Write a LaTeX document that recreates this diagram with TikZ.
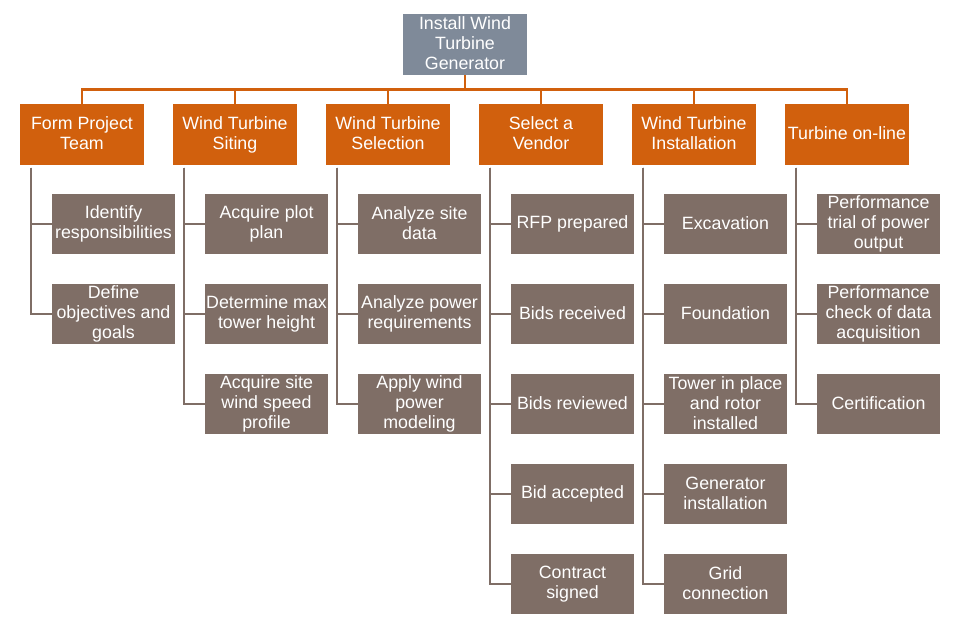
\documentclass[tikz,border=0pt]{standalone}
\usepackage{fontspec}
\setmainfont{Liberation Sans}
\usetikzlibrary{calc}
\definecolor{topc}{HTML}{7F8A99}
\definecolor{orc}{HTML}{D1600D}
\definecolor{grc}{HTML}{7F6E66}
\newcommand{\mystrut}{\rule[-2pt]{0pt}{14.7pt}}
\begin{document}
\begin{tikzpicture}[x=1pt,y=-1pt,
  box/.style={inner sep=0pt,align=center,text=white,font=\fontsize{17.8}{20}\selectfont,
    execute at begin node=\mystrut, execute at end node=\mystrut},
  topbox/.style={box,fill=topc,minimum width=124pt,minimum height=61pt},
  phase/.style={box,fill=orc,minimum width=124pt,minimum height=61pt},
  task/.style={box,fill=grc,minimum width=123pt,minimum height=60pt},
  olink/.style={draw=orc,line width=2.6pt},
  glink/.style={draw=grc,line width=2.6pt}]
\useasboundingbox (0,0) rectangle (972,627);
\node[topbox] (top) at (465,44.5) {Install Wind\\Turbine\\Generator};
% phases
\node[phase] (p1) at (82,134.5) {Form Project\\Team};
\node[phase] (p2) at (235,134.5) {Wind Turbine\\Siting};
\node[phase] (p3) at (388,134.5) {Wind Turbine\\Selection};
\node[phase] (p4) at (541,134.5) {Select a\\Vendor};
\node[phase] (p5) at (694,134.5) {Wind Turbine\\Installation};
\node[phase] (p6) at (847,134.5) {Turbine on-line};
% tasks
\node[task] (c11) at (113.5,224) {Identify\\responsibilities};
\node[task] (c12) at (113.5,314) {Define\\objectives and\\goals};
\node[task] (c21) at (266.5,224) {Acquire plot\\plan};
\node[task] (c22) at (266.5,314) {Determine max\\tower height};
\node[task] (c23) at (266.5,404) {Acquire site\\wind speed\\profile};
\node[task] (c31) at (419.5,224) {Analyze site\\data};
\node[task] (c32) at (419.5,314) {Analyze power\\requirements};
\node[task] (c33) at (419.5,404) {Apply wind\\power\\modeling};
\node[task] (c41) at (572.5,224) {RFP prepared};
\node[task] (c42) at (572.5,314) {Bids received};
\node[task] (c43) at (572.5,404) {Bids reviewed};
\node[task] (c44) at (572.5,494) {Bid accepted};
\node[task] (c45) at (572.5,584) {Contract\\signed};
\node[task] (c51) at (725.5,224) {Excavation};
\node[task] (c52) at (725.5,314) {Foundation};
\node[task] (c53) at (725.5,404) {Tower in place\\and rotor\\installed};
\node[task] (c54) at (725.5,494) {Generator\\installation};
\node[task] (c55) at (725.5,584) {Grid\\connection};
\node[task] (c61) at (878.5,224) {Performance\\trial of power\\output};
\node[task] (c62) at (878.5,314) {Performance\\check of data\\acquisition};
\node[task] (c63) at (878.5,404) {Certification};
% orange connectors
\foreach \p in {p1,p2,p3,p4,p5,p6}
  \draw[olink] (top.south) -- ++(0,14.5) -| (\p.north);
% gray connectors
\foreach \p/\cs in {p1/{c11,c12},p2/{c21,c22,c23},p3/{c31,c32,c33},p4/{c41,c42,c43,c44,c45},p5/{c51,c52,c53,c54,c55},p6/{c61,c62,c63}}
  \foreach \c in \cs
    \draw[glink] ($(\p.south west)+(11,2.5)$) |- (\c.west);
\end{tikzpicture}
\end{document}
